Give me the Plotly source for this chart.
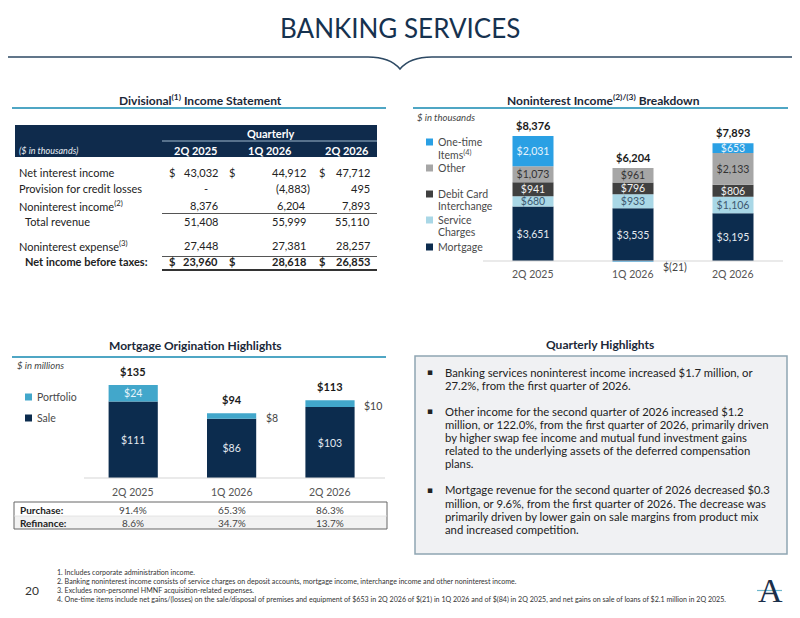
import plotly.graph_objects as go

# The page places the figure 8px in from the top-left corner, so the figure is
# 8px smaller than the window and all slide coordinates are offset by 8px.
OFF = 8
W, H = 800 - OFF, 618 - OFF
FONT = "Lato, 'Open Sans', sans-serif"
NAVY = "#0C2C4E"
TEAL_LINE = "#4FA6C4"

# ---------------- data ----------------
quarters = ["2Q 2025", "1Q 2026", "2Q 2026"]

# Income statement ($ in thousands)
row_labels = ["Net interest income", "Provision for credit losses",
              "Noninterest income<sup>(2)</sup>", "Total revenue",
              "Noninterest expense<sup>(3)</sup>", "Net income before taxes:"]
net_interest_income = [43032, 44912, 47712]
provision = [0, -4883, 495]
noninterest_income = [8376, 6204, 7893]
total_revenue = [51408, 55999, 55110]
noninterest_expense = [27448, 27381, 28257]
net_income_before_taxes = [23960, 28618, 26853]

# Noninterest income breakdown ($ in thousands)
ni_series = ["Mortgage", "Service Charges", "Debit Card Interchange", "Other", "One-time Items"]
ni_legend = ["Mortgage", "Service<br>Charges", "Debit Card<br>Interchange", "Other", "One-time<br>Items<sup>(4)</sup>"]
mortgage = [3651, 3535, 3195]
service_charges = [680, 933, 1106]
debit_card = [941, 796, 806]
other = [1073, 961, 2133]
one_time = [2031, -21, 653]

# Mortgage originations ($ in millions)
mo_series = ["Sale", "Portfolio"]
sale = [111, 86, 103]
portfolio = [24, 8, 10]
purchase_pct = [91.4, 65.3, 86.3]
refinance_pct = [8.6, 34.7, 13.7]

highlights = [
    ["Banking services noninterest income increased $1.7 million, or",
     "27.2%, from the first quarter of 2026."],
    ["Other income for the second quarter of 2026 increased $1.2",
     "million, or 122.0%, from the first quarter of 2026, primarily driven",
     "by higher swap fee income and mutual fund investment gains",
     "related to the underlying assets of the deferred compensation",
     "plans."],
    ["Mortgage revenue for the second quarter of 2026 decreased $0.3",
     "million, or 9.6%, from the first quarter of 2026. The decrease was",
     "primarily driven by lower gain on sale margins from product mix",
     "and increased competition."],
]

footnotes = [
    "1. Includes corporate administration income.",
    "2. Banking noninterest income consists of service charges on deposit accounts, mortgage income, interchange income and other noninterest income.",
    "3. Excludes non-personnel HMNF acquisition-related expenses.",
    "4. One-time items include net gains/(losses) on the sale/disposal of premises and equipment of $653 in 2Q 2026 of $(21) in 1Q 2026 and of $(84) in 2Q 2025, and net gains on sale of loans of $2.1 million in 2Q 2025.",
]


# ---------------- helpers ----------------
def X(p):
    return (p - OFF) / W


def Y(p):
    return 1 - (p - OFF) / H


def money(v):
    return f"${v:,}" if v >= 0 else f"$({abs(v):,})"


def acct(v):
    if v == 0:
        return "-"
    return f"{v:,}" if v > 0 else f"({abs(v):,})"


annotations = []
shapes = []


def txt(x, y, text, size=11, color="#222", anchor="center", bold=False, italic=False, family=FONT, **kw):
    if bold:
        text = f"<b>{text}</b>"
    if italic:
        text = f"<i>{text}</i>"
    d = dict(x=X(x), y=Y(y), xref="paper", yref="paper", text=text, showarrow=False,
             xanchor=anchor, yanchor="middle", font=dict(family=family, size=size, color=color))
    d.update(kw)
    annotations.append(d)


def line(x0, y0, x1, y1, color="#444", width=1):
    shapes.append(dict(type="line", xref="paper", yref="paper", x0=X(x0), y0=Y(y0), x1=X(x1), y1=Y(y1),
                       line=dict(color=color, width=width)))


def rect(x0, y0, x1, y1, fill, lcolor=None, lwidth=0):
    shapes.append(dict(type="rect", xref="paper", yref="paper", x0=X(x0), y0=Y(y0), x1=X(x1), y1=Y(y1),
                       fillcolor=fill, line=dict(color=lcolor or fill, width=lwidth), layer="below"))


# ---------------- title & header line ----------------
txt(400, 28, "BANKING SERVICES", size=26, color="#16324F")
path = (f"M {X(8)},{Y(57)} L {X(368)},{Y(57)} Q {X(390)},{Y(57)} {X(400)},{Y(69)} "
        f"Q {X(410)},{Y(57)} {X(432)},{Y(57)} L {X(800)},{Y(57)}")
shapes.append(dict(type="path", xref="paper", yref="paper", path=path, line=dict(color="#2E4A64", width=1.6)))

# section headings
txt(200, 100, "Divisional<sup>(1)</sup> Income Statement", size=12, color="#1B2838", bold=True)
line(12, 108, 386, 108, TEAL_LINE, 2)
txt(603, 100, "Noninterest Income<sup>(2)/(3)</sup> Breakdown", size=12, color="#1B2838", bold=True)
line(413, 108, 788, 108, TEAL_LINE, 2)
txt(195, 345, "Mortgage Origination Highlights", size=12, color="#1B2838", bold=True)
line(12, 357, 386, 357, TEAL_LINE, 2)
txt(600, 344, "Quarterly Highlights", size=12, color="#1B2838", bold=True)

# ---------------- income statement table ----------------
rect(15, 125, 377, 157, "#0F2B4C")
txt(270, 134, "Quarterly", size=11, color="white", bold=True)
line(162, 141, 377, 141, "#9FB8CC", 1)
txt(17, 150, "($ in thousands)", size=9, color="#E8EEF4", anchor="left", italic=True)
col_center = [195, 270, 347]
for q, cx in zip(quarters, col_center):
    txt(cx, 150, q, size=11, color="white", bold=True)

row_y = [172, 188, 205, 221, 245, 262]
row_x = [17, 17, 17, 23, 17, 23]
for lab, ry, rx, i in zip(row_labels, row_y, row_x, range(6)):
    txt(rx, ry, lab, size=11, color="#222", anchor="left", bold=(i == 5))

rows_vals = [net_interest_income, provision, noninterest_income, total_revenue,
             noninterest_expense, net_income_before_taxes]
val_right = [220, 308, 372]
dollar_x = [172, 232, 322]
for i, (vals, ry) in enumerate(zip(rows_vals, row_y)):
    for j, v in enumerate(vals):
        s = acct(v)
        if s == "-":
            txt(206, ry, s, size=11, color="#222")
        elif v < 0:
            txt(val_right[j] + 4, ry, s, size=11, color="#222", anchor="right")
        else:
            txt(val_right[j], ry, s, size=11, color="#222", anchor="right", bold=(i == 5))
        if i in (0, 5):
            txt(dollar_x[j], ry, "$", size=11, color="#222", bold=(i == 5))
line(162, 213.5, 377, 213.5, "#555", 1.2)
line(162, 256.5, 377, 256.5, "#555", 1.2)
line(162, 270, 377, 270, "#333", 1.8)

# ---------------- noninterest income chart ----------------
s1 = 125 / 8376.0  # px per $k
b1, top1, bot1 = 261, 111, 281
y1range = [-(bot1 - b1) / s1, (b1 - top1) / s1]

ni_values = [mortgage, service_charges, debit_card, other, one_time]
ni_colors = [NAVY, "#A9D7E6", "#404040", "#A6A6A6", "#2AA0E4"]
ni_text_colors = ["#E4EAF0", "#3D5870", "#F2F2F2", "#333333", "#E8F4FC"]

fig = go.Figure()
for name, vals, col, tc in zip(ni_series, ni_values, ni_colors, ni_text_colors):
    fig.add_trace(go.Bar(
        x=quarters, y=vals, name=name, marker=dict(color=col, line=dict(width=0)),
        width=0.41, text=[money(v) if v > 0 else "" for v in vals],
        textposition="inside", insidetextanchor="middle", textangle=0,
        textfont=dict(family=FONT, size=10.5, color=tc),
        xaxis="x", yaxis="y", showlegend=False, hoverinfo="skip"))

ni_totals = [sum(v) for v in zip(*ni_values)]
ni_tops = [sum(x for x in v if x > 0) for v in zip(*ni_values)]
for q, t, tp in zip(quarters, ni_totals, ni_tops):
    annotations.append(dict(x=q, y=tp, xref="x", yref="y", text=f"<b>{money(t)}</b>", showarrow=False,
                            xanchor="center", yanchor="bottom", yshift=2,
                            font=dict(family=FONT, size=11, color="#1A1A1A")))
for q, v in zip(quarters, one_time):
    if v < 0:
        annotations.append(dict(x=q, y=0, xref="x", yref="y", text=money(v), showarrow=False,
                                xanchor="left", yanchor="middle", xshift=28, yshift=-6,
                                font=dict(family=FONT, size=10.5, color="#444")))
for q in quarters:
    annotations.append(dict(x=q, y=Y(274), xref="x", yref="paper", text=q, showarrow=False,
                            xanchor="center", yanchor="middle", font=dict(family=FONT, size=10.5, color="#555")))
line(483, 261, 783, 261, "#D6D6D6", 1.2)
txt(415, 118, "$ in thousands", size=9.5, color="#444", anchor="left", italic=True)

# legend (drawn manually, top to bottom)
leg_y = [247, 220, 194, 168, 142]
for lab, col, ly in zip(ni_legend, ni_colors, leg_y):
    rect(426, ly - 3.5, 433, ly + 3.5, col)
    parts = lab.split("<br>")
    for k, p in enumerate(parts):
        txt(436, ly + 12 * k, p, size=10.5, color="#4A4A4A", anchor="left")

# ---------------- mortgage origination chart ----------------
s2 = 93 / 135.0
b2, top2, bot2 = 478, 360, 490
y2range = [-(bot2 - b2) / s2, (b2 - top2) / s2]
mo_values = [sale, portfolio]
mo_colors = [NAVY, "#42A7CB"]
mo_text_colors = ["#E4EAF0", "#E8F4FA"]
for name, vals, col, tc in zip(mo_series, mo_values, mo_colors, mo_text_colors):
    fig.add_trace(go.Bar(
        x=quarters, y=vals, name=name, marker=dict(color=col, line=dict(width=0)),
        width=0.5, text=[money(v) if v >= 20 else "" for v in vals],
        textposition="inside", insidetextanchor="middle", textangle=0,
        textfont=dict(family=FONT, size=10.5, color=tc),
        xaxis="x2", yaxis="y2", showlegend=False, hoverinfo="skip"))
mo_totals = [a + b for a, b in zip(sale, portfolio)]
for q, t in zip(quarters, mo_totals):
    annotations.append(dict(x=q, y=t, xref="x2", yref="y2", text=f"<b>{money(t)}</b>", showarrow=False,
                            xanchor="center", yanchor="bottom", yshift=5,
                            font=dict(family=FONT, size=11, color="#1A1A1A")))
for q, s, p in zip(quarters, sale, portfolio):
    if p < 20:
        annotations.append(dict(x=q, y=s + p / 2, xref="x2", yref="y2", text=money(p), showarrow=False,
                                xanchor="left", yanchor="middle", xshift=32, yshift=-2,
                                font=dict(family=FONT, size=10.5, color="#444")))
for q in quarters:
    annotations.append(dict(x=q, y=Y(492), xref="x2", yref="paper", text=q, showarrow=False,
                            xanchor="center", yanchor="middle", font=dict(family=FONT, size=10.5, color="#555")))
line(84, 478, 385, 478, "#D6D6D6", 1.2)
txt(15, 365, "$ in millions", size=9.5, color="#444", anchor="left", italic=True)
for lab, col, ly in zip(["Portfolio", "Sale"], [mo_colors[1], mo_colors[0]], [397, 418]):
    rect(25, ly - 3.5, 32, ly + 3.5, col)
    txt(35, ly, lab, size=10.5, color="#4A4A4A", anchor="left")

# purchase / refinance table
rect(14, 516, 387, 529, "#F2F2F2")
shapes.append(dict(type="rect", xref="paper", yref="paper", x0=X(14), y0=Y(502), x1=X(387), y1=Y(529),
                   fillcolor="rgba(0,0,0,0)", line=dict(color="#666", width=1)))
line(14, 516, 387, 516, "#E0E0E0", 0.8)
txt(18, 509.5, "Purchase:", size=10, color="#222", anchor="left", bold=True)
txt(18, 522.5, "Refinance:", size=10, color="#222", anchor="left", bold=True)
for q, pp, rp in zip(quarters, purchase_pct, refinance_pct):
    for v, yy in ((pp, 509.5), (rp, 522.5)):
        annotations.append(dict(x=q, y=Y(yy), xref="x2", yref="paper", text=f"{v:.1f}%", showarrow=False,
                                xanchor="center", yanchor="middle", font=dict(family=FONT, size=10, color="#444")))

# ---------------- quarterly highlights box ----------------
rect(415, 356, 787, 554, "#F0F1F3", "#8EA5B2", 1.5)
line_ys = [[372, 385], [411, 424, 437, 450, 463], [490, 503, 516, 529]]
for para, ys in zip(highlights, line_ys):
    txt(430, ys[0], "▪", size=9, color="#222", family="DejaVu Sans")
    for t, yy in zip(para, ys):
        txt(443, yy, t, size=11.3, color="#222", anchor="left")

# ---------------- footer ----------------
txt(32, 590, "20", size=12, color="#333")
for k, f in enumerate(footnotes):
    txt(55, 572 + 9.3 * k, f, size=7.1, color="#333", anchor="left")
txt(770, 590, "A", size=34, color="#1B2F4A", family="'Liberation Serif', serif")
line(757, 590.5, 782, 590.5, "#6FB7CC", 1.2)

fig.update_layout(
    width=W, height=H, margin=dict(l=0, r=0, t=0, b=0),
    paper_bgcolor="white", plot_bgcolor="rgba(0,0,0,0)",
    barmode="relative", showlegend=False,
    uniformtext=dict(minsize=10.5, mode="show"),
    xaxis=dict(domain=[X(483), X(783)], categoryorder="array", categoryarray=quarters,
               showticklabels=False, showgrid=False, zeroline=False, showline=False, fixedrange=True),
    yaxis=dict(domain=[Y(bot1), Y(top1)], range=y1range, showticklabels=False, showgrid=False,
               zeroline=False, showline=False, fixedrange=True),
    xaxis2=dict(domain=[X(84), X(384)], anchor="y2", categoryorder="array", categoryarray=quarters,
                showticklabels=False, showgrid=False, zeroline=False, showline=False, fixedrange=True),
    yaxis2=dict(domain=[Y(bot2), Y(top2)], anchor="x2", range=y2range, showticklabels=False,
                showgrid=False, zeroline=False, showline=False, fixedrange=True),
    annotations=annotations, shapes=shapes,
)

fig.write_html("out.html")
